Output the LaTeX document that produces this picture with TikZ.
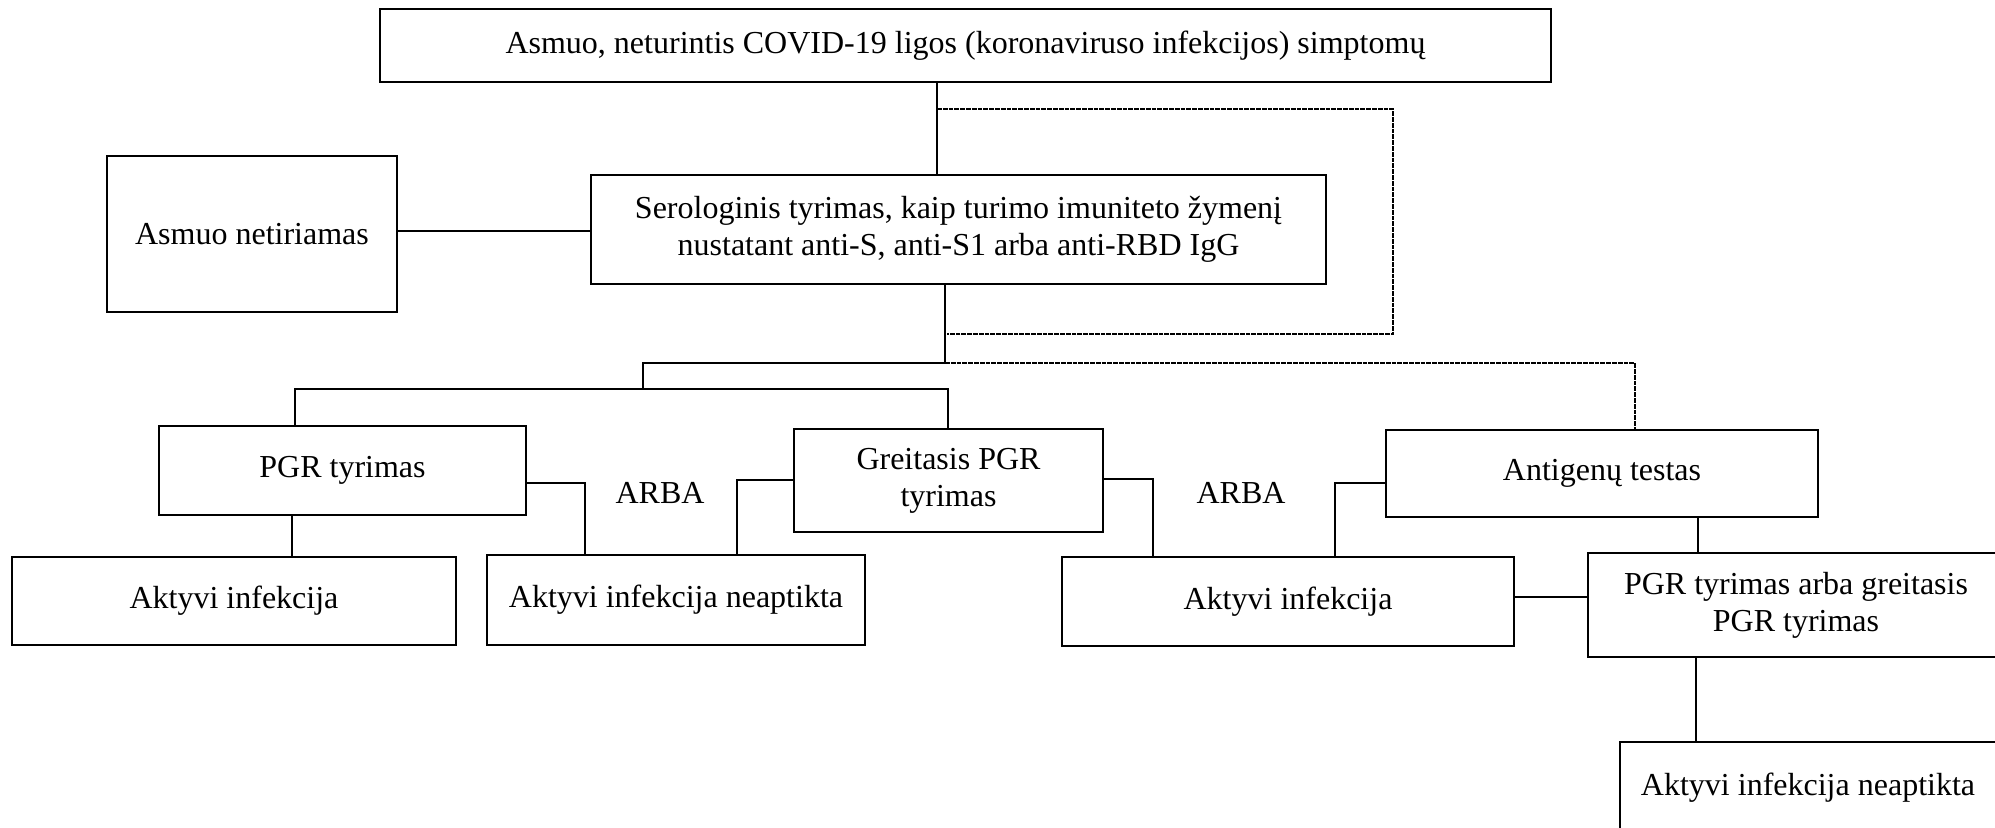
\documentclass[tikz,border=0pt]{standalone}
\usepackage{fontspec}
\setmainfont{Liberation Serif}
\newcommand\bbox[6]{\node[box, minimum width={(#4-#2)*0.5pt}, minimum height={(#5-#3)*0.5pt}] (#1) at ({(#2+#4)/2},{(#3+#5)/2}) {#6};}
\begin{document}
\begin{tikzpicture}[x=0.5pt,y=-0.5pt,
  box/.style={draw, line width=1.2pt, inner sep=0pt, align=center,
    font=\fontsize{16}{18.5}\selectfont},
  lbl/.style={inner sep=0pt, font=\fontsize{16}{18.5}\selectfont},
  conn/.style={line width=0.9pt},
  dashconn/.style={line width=1.3pt, dash pattern=on 2.4pt off 0.5pt}]
\useasboundingbox (0,0) rectangle (1995,828);
\clip (0,0) rectangle (1995,828);
% boxes
\bbox{top}{380}{9}{1551}{82}{Asmuo, neturintis COVID-19 ligos (koronaviruso infekcijos) simptomų}
\bbox{asm}{107}{156}{397}{312}{Asmuo netiriamas}
\bbox{ser}{591}{175}{1326}{284}{Serologinis tyrimas, kaip turimo imuniteto žymenį\\nustatant anti-S, anti-S1 arba anti-RBD IgG}
\bbox{pgr}{159}{426}{526}{515}{PGR tyrimas}
\bbox{gre}{794}{429}{1103}{532}{Greitasis PGR\\tyrimas}
\bbox{ant}{1386}{430}{1818}{517}{Antigenų testas}
\bbox{ak1}{12}{557}{456}{645}{Aktyvi infekcija}
\bbox{ne1}{487}{555}{865}{645}{Aktyvi infekcija neaptikta}
\bbox{ak2}{1062}{557}{1514}{646}{Aktyvi infekcija}
\bbox{pa}{1588}{553}{2004}{657}{PGR tyrimas arba greitasis\\PGR tyrimas}
\bbox{ne2}{1620}{742}{1996}{834}{Aktyvi infekcija neaptikta}
\node[lbl] (or1) at (660,493) {ARBA};
\node[lbl] (or2) at (1241,493) {ARBA};
% junction coordinates
\coordinate (v1) at (937,109);
\coordinate (d1) at (1393,109);
\coordinate (d2) at (1393,334);
\coordinate (d3) at (947,334);
\coordinate (v2) at (945,363);
\coordinate (d4) at (1635,363);
\coordinate (h1) at (643,363);
\coordinate (h2) at (643,389);
\coordinate (hl) at (295,389);
\coordinate (hr) at (948,389);
\coordinate (y1) at (0,231);
\coordinate (c1) at (585,483);
\coordinate (c2) at (737,480);
\coordinate (c3) at (292,0);
\coordinate (c4) at (1153,479);
\coordinate (c5) at (1335,483);
\coordinate (y2) at (0,597);
\coordinate (c6) at (1698,0);
\coordinate (c7) at (1696,0);
% connectors
\draw[conn] (top.south -| v1) -- (ser.north -| v1);
\draw[dashconn] (v1) -- (d1) -- (d2) -- (d3);
\draw[conn] (ser.south -| v2) -- (v2);
\draw[dashconn] (v2) -- (d4) -- (ant.north -| d4);
\draw[conn] (v2) -- (h1) -- (h2);
\draw[conn] (pgr.north -| hl) -- (hl) -- (hr) -- (gre.north -| hr);
\draw[conn] (asm.east |- y1) -- (ser.west |- y1);
\draw[conn] (pgr.east |- c1) -- (c1) -- (ne1.north -| c1);
\draw[conn] (gre.west |- c2) -- (c2) -- (ne1.north -| c2);
\draw[conn] (pgr.south -| c3) -- (ak1.north -| c3);
\draw[conn] (gre.east |- c4) -- (c4) -- (ak2.north -| c4);
\draw[conn] (ant.west |- c5) -- (c5) -- (ak2.north -| c5);
\draw[conn] (ak2.east |- y2) -- (pa.west |- y2);
\draw[conn] (ant.south -| c6) -- (pa.north -| c6);
\draw[conn] (pa.south -| c7) -- (ne2.north -| c7);
\end{tikzpicture}
\end{document}
